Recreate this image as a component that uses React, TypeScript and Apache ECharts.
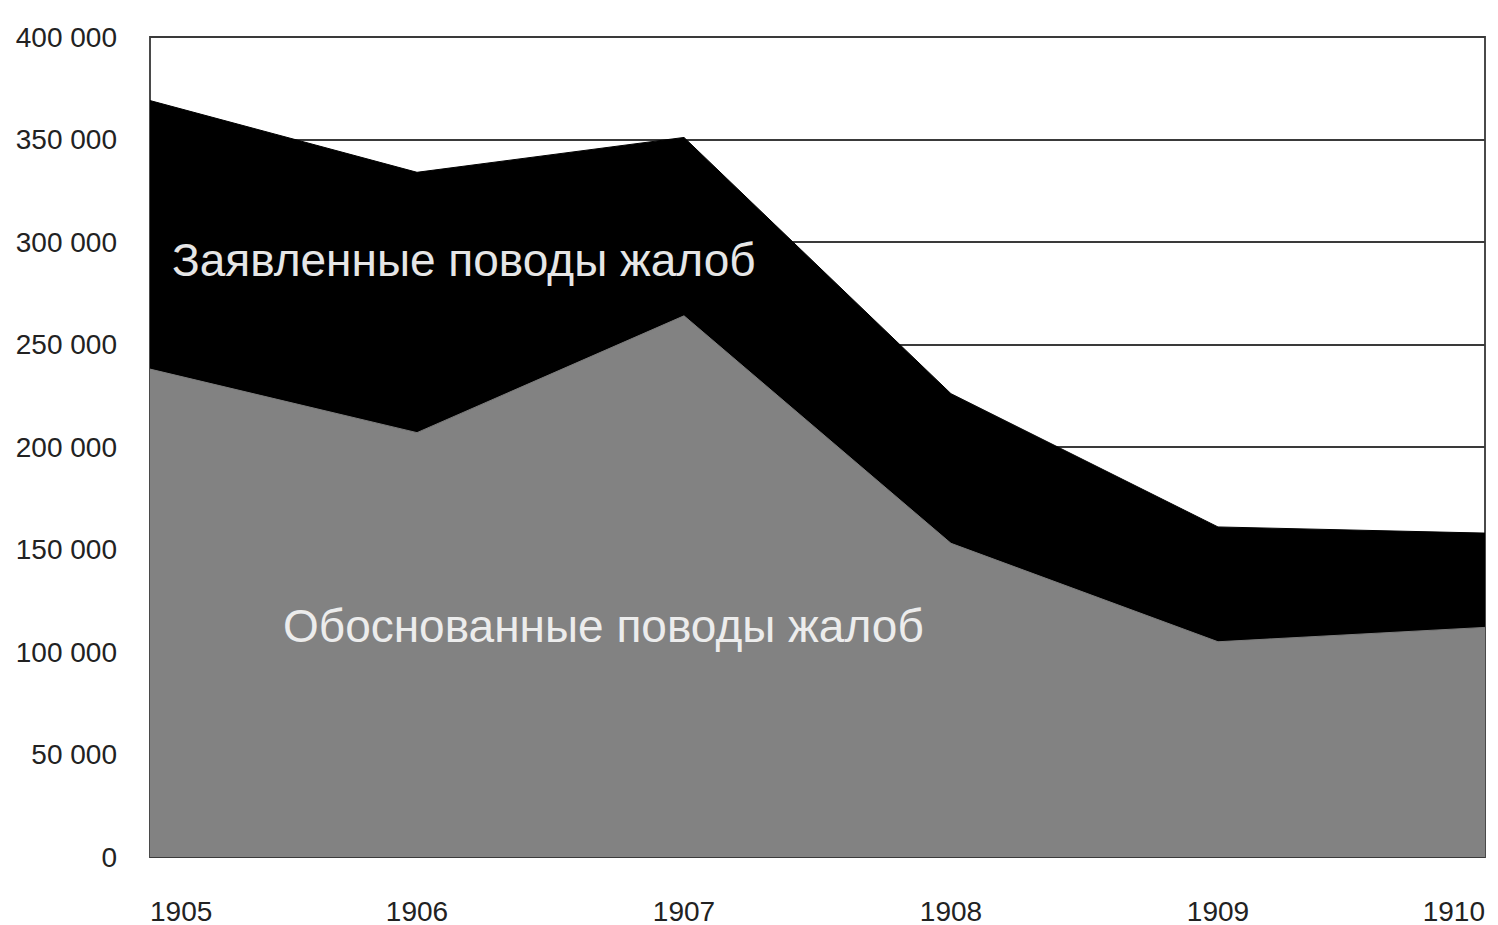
import React, { useEffect, useRef } from "react";
import * as echarts from "echarts";

const years = ["1905", "1906", "1907", "1908", "1909", "1910"];
const declared = [369000, 334000, 351000, 226000, 161000, 158000];
const justified = [238000, 207000, 264000, 153000, 105000, 112000];
const yTicks = { min: 0, max: 400000, interval: 50000 };

const FONT = "'Liberation Sans Narrow', 'Liberation Sans', Arial, sans-serif";

const fmt = (v: number) => (v === 0 ? "0" : String(v).replace(/\B(?=(\d{3})+(?!\d))/g, " "));

export default function App() {
  const ref = useRef<HTMLDivElement>(null);
  useEffect(() => {
    if (!ref.current) return;
    const chart = echarts.init(ref.current, null, { renderer: "svg" });
    chart.setOption({
      animation: false,
      backgroundColor: "#ffffff",
      grid: {
        left: 150,
        right: 13,
        top: 37,
        bottom: 67,
        show: true,
        borderColor: "#4a4a4a",
        borderWidth: 2,
        backgroundColor: "transparent",
      },
      xAxis: {
        type: "category",
        data: years,
        boundaryGap: false,
        axisLine: { show: false },
        axisTick: { show: false },
        axisLabel: {
          color: "#222",
          fontFamily: FONT,
          fontSize: 28,
          margin: 40,
          alignMinLabel: "left",
          alignMaxLabel: "right",
        },
        splitLine: { show: false },
      },
      yAxis: {
        type: "value",
        min: yTicks.min,
        max: yTicks.max,
        interval: yTicks.interval,
        axisLine: { show: false },
        axisTick: { show: false },
        axisLabel: {
          color: "#222",
          fontFamily: FONT,
          fontSize: 28,
          margin: 33,
          formatter: (v: number) => fmt(v),
        },
        splitLine: { show: true, lineStyle: { color: "#3a3a3a", width: 2 } },
      },
      series: [
        {
          name: "Заявленные поводы жалоб",
          type: "line",
          data: declared,
          symbol: "none",
          lineStyle: { color: "#000", width: 1 },
          areaStyle: { color: "#000000", opacity: 1 },
          z: 2,
        },
        {
          name: "Обоснованные поводы жалоб",
          type: "line",
          data: justified,
          symbol: "none",
          lineStyle: { color: "#7d7d7d", width: 1 },
          areaStyle: { color: "#828282", opacity: 1 },
          z: 3,
        },
      ],
      graphic: [
        {
          type: "text",
          left: 172,
          top: 237,
          z: 10,
          style: {
            text: "Заявленные поводы жалоб",
            fill: "#e6e6e6",
            font: `46px 'Liberation Sans', Arial, sans-serif`,
          },
        },
        {
          type: "text",
          left: 283,
          top: 603,
          z: 10,
          style: {
            text: "Обоснованные поводы жалоб",
            fill: "#ececec",
            font: `46px 'Liberation Sans', Arial, sans-serif`,
          },
        },
      ],
    });
    return () => chart.dispose();
  }, []);
  return <div ref={ref} style={{ width: 1498, height: 925, position: "absolute", left: 0, top: 0 }} />;
}
